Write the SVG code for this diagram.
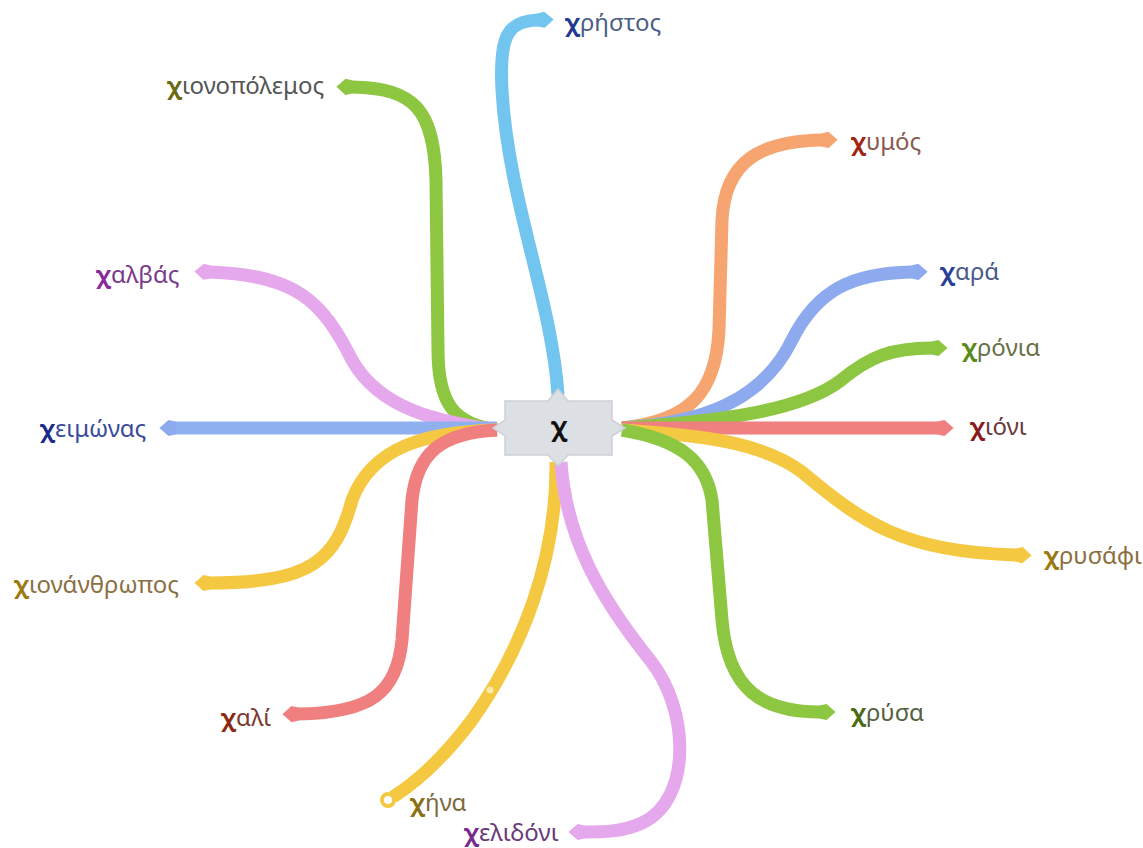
<svg xmlns="http://www.w3.org/2000/svg" width="1143" height="848" viewBox="0 0 1143 848">
<style>
.c{fill:none;stroke-width:13;stroke-linecap:butt;stroke-linejoin:round}
.t{font-family:"Noto Sans","Open Sans",sans-serif;font-size:24px}
.x{font-weight:bold}
</style>
<defs>
<marker id="m-lb" viewBox="0 -1 2 2" refX="0.05" refY="0" markerWidth="2" markerHeight="2" orient="auto" markerUnits="strokeWidth"><path d="M0,-0.5 L0.55,-0.62 L1.25,0 L0.55,0.62 L0,0.5z" fill="#72c5ef"/></marker>
<marker id="m-g" viewBox="0 -1 2 2" refX="0.05" refY="0" markerWidth="2" markerHeight="2" orient="auto" markerUnits="strokeWidth"><path d="M0,-0.5 L0.55,-0.62 L1.25,0 L0.55,0.62 L0,0.5z" fill="#8dc641"/></marker>
<marker id="m-o" viewBox="0 -1 2 2" refX="0.05" refY="0" markerWidth="2" markerHeight="2" orient="auto" markerUnits="strokeWidth"><path d="M0,-0.5 L0.55,-0.62 L1.25,0 L0.55,0.62 L0,0.5z" fill="#f6a470"/></marker>
<marker id="m-b" viewBox="0 -1 2 2" refX="0.05" refY="0" markerWidth="2" markerHeight="2" orient="auto" markerUnits="strokeWidth"><path d="M0,-0.5 L0.55,-0.62 L1.25,0 L0.55,0.62 L0,0.5z" fill="#8eaaee"/></marker>
<marker id="m-r" viewBox="0 -1 2 2" refX="0.05" refY="0" markerWidth="2" markerHeight="2" orient="auto" markerUnits="strokeWidth"><path d="M0,-0.5 L0.55,-0.62 L1.25,0 L0.55,0.62 L0,0.5z" fill="#f07f80"/></marker>
<marker id="m-y" viewBox="0 -1 2 2" refX="0.05" refY="0" markerWidth="2" markerHeight="2" orient="auto" markerUnits="strokeWidth"><path d="M0,-0.5 L0.55,-0.62 L1.25,0 L0.55,0.62 L0,0.5z" fill="#f5c842"/></marker>
<marker id="m-p" viewBox="0 -1 2 2" refX="0.05" refY="0" markerWidth="2" markerHeight="2" orient="auto" markerUnits="strokeWidth"><path d="M0,-0.5 L0.55,-0.62 L1.25,0 L0.55,0.62 L0,0.5z" fill="#e6a8ec"/></marker>
</defs>
<rect width="1143" height="848" fill="#ffffff"/>
<g id="connectors">
<path class="c" stroke="#72c5ef" marker-end="url(#m-lb)" d="M558,395 C552,300 508,200 502,90 C499,35 508,21 538,20"/>
<path class="c" stroke="#8dc641" marker-end="url(#m-g)" d="M497,430 C455,424 438,405 438,350 L436,180 C434,110 415,88 352,87"/>
<path class="c" stroke="#e6a8ec" marker-end="url(#m-p)" d="M497,430 C440,422 380,410 352,360 C322,300 295,275 210,272"/>
<path class="c" stroke="#8fb0ee" marker-end="url(#m-b)" d="M497,428 L175,428"/>
<path class="c" stroke="#f5c842" marker-end="url(#m-y)" d="M497,430 C425,432 372,447 352,500 C336,560 312,583 210,583"/>
<path class="c" stroke="#f07f80" marker-end="url(#m-r)" d="M497,430 C442,433 417,452 412,500 L402,640 C397,692 372,713 298,714"/>
<path class="c" stroke="#f6a470" marker-end="url(#m-o)" d="M622,428 C690,421 716,392 719,330 L722,220 C725,160 762,141 822,140"/>
<path class="c" stroke="#8eaaee" marker-end="url(#m-b)" d="M622,428 C700,423 762,402 792,340 C817,290 852,273 912,272"/>
<path class="c" stroke="#8dc641" marker-end="url(#m-g)" d="M622,428 C720,421 800,411 840,381 C870,356 892,348 932,348"/>
<path class="c" stroke="#f07f80" marker-end="url(#m-r)" d="M622,428 L938,428"/>
<path class="c" stroke="#f5c842" marker-end="url(#m-y)" d="M622,430 C700,435 762,442 802,472 C862,522 902,552 1016,555"/>
<path class="c" stroke="#8dc641" marker-end="url(#m-g)" d="M622,430 C682,440 706,462 712,500 L722,620 C728,690 762,712 820,712"/>
<path class="c" stroke="#f5c842" d="M556,462 C557,560 522,650 472,720 C442,760 415,783 393,797"/>
<circle cx="388" cy="800" r="6" fill="#ffffff" stroke="#f5c842" stroke-width="4"/>
<circle cx="490" cy="690" r="3.5" fill="#fbeaa8"/>
<path class="c" stroke="#e6a8ec" marker-end="url(#m-p)" d="M561,462 C566,540 602,600 650,660 C690,710 692,800 642,823 C622,832 604,832 584,832"/>
</g>
<g id="center">
<path d="M505,401 L548,401 L558,389 L568,401 L612,401 L612,420 L625,428 L612,436 L612,455 L568,455 L558,466 L548,455 L505,455 L505,436 L493,428 L505,420 Z" fill="#dcdfe3" stroke="#cdd0d5" stroke-width="1.5"/>
<text x="559" y="436" text-anchor="middle" font-family="Noto Sans,sans-serif" font-size="26" font-weight="bold" fill="#111">χ</text>
</g>
<g id="n-christos"><text class="t" x="565" y="31" fill="#4a5e86"><tspan class="x" fill="#1f3a8f">χ</tspan>ρήστος</text></g>
<g id="n-chionopolemos"><text class="t" x="167" y="94" fill="#555555"><tspan class="x" fill="#6b6a14">χ</tspan>ιονοπόλεμος</text></g>
<g id="n-chymos"><text class="t" x="851" y="150" fill="#8a5a50"><tspan class="x" fill="#a02414">χ</tspan>υμός</text></g>
<g id="n-chalvas"><text class="t" x="96" y="283" fill="#7a3a8a"><tspan class="x" fill="#8a2a9a">χ</tspan>αλβάς</text></g>
<g id="n-chara"><text class="t" x="940" y="280" fill="#4a5a8a"><tspan class="x" fill="#2a3f9a">χ</tspan>αρά</text></g>
<g id="n-chronia"><text class="t" x="962" y="356" fill="#667044"><tspan class="x" fill="#5a8a1a">χ</tspan>ρόνια</text></g>
<g id="n-cheimonas"><text class="t" x="40" y="437" fill="#3a4a9a"><tspan class="x" fill="#1a2a8a">χ</tspan>ειμώνας</text></g>
<g id="n-chioni"><text class="t" x="970" y="435" fill="#6a3a3a"><tspan class="x" fill="#8a1a1a">χ</tspan>ιόνι</text></g>
<g id="n-chrysafi"><text class="t" x="1044" y="564" fill="#8a7040"><tspan class="x" fill="#9a7a10">χ</tspan>ρυσάφι</text></g>
<g id="n-chionanthropos"><text class="t" x="14" y="593" fill="#8a7040"><tspan class="x" fill="#a07810">χ</tspan>ιονάνθρωπος</text></g>
<g id="n-chali"><text class="t" x="221" y="726" fill="#7a3a30"><tspan class="x" fill="#8a2a10">χ</tspan>αλί</text></g>
<g id="n-chrysa"><text class="t" x="851" y="721" fill="#556040"><tspan class="x" fill="#4a6a14">χ</tspan>ρύσα</text></g>
<g id="n-china"><text class="t" x="410" y="811" fill="#7a6a40"><tspan class="x" fill="#8a7010">χ</tspan>ήνα</text></g>
<g id="n-chelidoni"><text class="t" x="464" y="841" fill="#6a3a7a"><tspan class="x" fill="#7a2a8a">χ</tspan>ελιδόνι</text></g>
</svg>
